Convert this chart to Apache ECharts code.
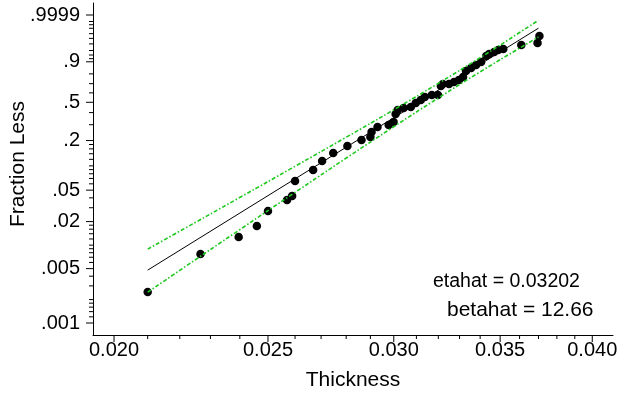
<!DOCTYPE html>
<html>
<head>
<meta charset="utf-8">
<script src="https://cdn.jsdelivr.net/npm/echarts@6/dist/echarts.min.js"></script>
<style>
  html, body { margin: 0; padding: 0; background: #fff; }
  #chart { width: 624px; height: 398px; }
</style>
</head>
<body>
<div id="chart"></div>
<script>
// Sorted thickness observations and their plotting positions (fraction less)
const thickness = [0.0210, 0.02267, 0.02396, 0.02460, 0.02500, 0.02570, 0.02589, 0.02600, 0.02669, 0.02704,
  0.02748, 0.02805, 0.02863, 0.02900, 0.02905, 0.02930, 0.02978, 0.02999, 0.03008, 0.03017,
  0.03043, 0.03075, 0.03097, 0.03120, 0.03138, 0.03170, 0.03198, 0.03212, 0.03221, 0.03250,
  0.03274, 0.03297, 0.03317, 0.03331, 0.03356, 0.03380, 0.03405, 0.03430, 0.03445, 0.03470,
  0.03490, 0.03516, 0.03609, 0.03695, 0.03705];
const fractionLess = [0.00250, 0.00770, 0.0127, 0.0176, 0.0273, 0.0376, 0.0422, 0.0650, 0.0889, 0.1145,
  0.1428, 0.1728, 0.2027, 0.2193, 0.2496, 0.2832, 0.2976, 0.3203, 0.3871, 0.4237,
  0.4428, 0.4525, 0.4924, 0.5234, 0.5551, 0.5766, 0.5766, 0.6744, 0.6960, 0.6960,
  0.7173, 0.7382, 0.7689, 0.8262, 0.8523, 0.8763, 0.8983, 0.9347, 0.9448, 0.9537,
  0.9616, 0.9652, 0.9772, 0.9819, 0.9928];

// Confidence band around the fitted Weibull line
const bandThickness = [0.021, 0.023, 0.025, 0.027, 0.029, 0.031, 0.033, 0.035, 0.037];
const bandUpper = [0.00889, 0.0250, 0.0639, 0.1486, 0.3099, 0.5608, 0.8309, 0.9771, 0.99962];
const bandLower = [0.00249, 0.00879, 0.0276, 0.0775, 0.1921, 0.4057, 0.6904, 0.9137, 0.9918];

// Fitted Weibull parameters and the thickness range the fit is drawn over
const etahat = 0.03202;
const betahat = 12.66;
const fitRange = [0.021, 0.037];

// Axis ticks
const xTicks = [0.020, 0.025, 0.030, 0.035, 0.040];
const xTickLabels = ['0.020', '0.025', '0.030', '0.035', '0.040'];
const xMinorTicks = [0.021, 0.022, 0.023, 0.024, 0.026, 0.027, 0.028, 0.029,
  0.031, 0.032, 0.033, 0.034, 0.036, 0.037, 0.038, 0.039];
const yTicks = [0.001, 0.005, 0.02, 0.05, 0.2, 0.5, 0.9, 0.9999];
const yTickLabels = ['.001', '.005', '.02', '.05', '.2', '.5', '.9', '.9999'];
const yMinorTicks = [0.0012, 0.0014, 0.0016, 0.0018, 0.002, 0.003, 0.004, 0.006, 0.007, 0.008, 0.009,
  0.01, 0.012, 0.014, 0.016, 0.018, 0.03, 0.04, 0.06, 0.07, 0.08, 0.09,
  0.1, 0.12, 0.14, 0.16, 0.18, 0.3, 0.4, 0.6, 0.7, 0.8,
  0.92, 0.94, 0.96, 0.98, 0.99, 0.995, 0.998, 0.999, 0.9995];

// Weibull probability-paper scales: log thickness vs log(-log(1 - p))
const wx = v => Math.log(v);
const wy = p => Math.log(-Math.log(1 - p));

const X_MIN = wx(0.01940), X_MAX = wx(0.04122);
const Y_MIN = -7.263, Y_MAX = 2.576;

const FONT = '"Liberation Sans", Arial, Helvetica, sans-serif';
const GREEN = '#1ec81e';
const MAJOR_LEN = 7, MINOR_LEN = 4;

const labelFor = (ticks, labels, t) => v => {
  const i = ticks.findIndex(tk => Math.abs(t(tk) - v) < 1e-6);
  return i >= 0 ? labels[i] : '';
};

const points = thickness.map((x, i) => [wx(x), wy(fractionLess[i])]);
const fitLine = fitRange.map(x => [wx(x), betahat * (wx(x) - wx(etahat))]);
const upper = bandThickness.map((x, i) => [wx(x), wy(bandUpper[i])]);
const lower = bandThickness.map((x, i) => [wx(x), wy(bandLower[i])]);

// Tick marks drawn as thin rectangles anchored on the axis lines
const tickSeries = (values, len, horizontal) => ({
  type: 'scatter', silent: true, clip: false, z: 6,
  symbol: 'rect',
  symbolSize: horizontal ? [len, 1] : [1, len],
  symbolOffset: horizontal ? [-len / 2, 0] : [0, len / 2],
  itemStyle: { color: '#000', opacity: 1 },
  emphasis: { disabled: true },
  data: horizontal ? values.map(v => [X_MIN, wy(v)]) : values.map(v => [wx(v), Y_MIN])
});

const chart = echarts.init(document.getElementById('chart'), null, { renderer: 'canvas' });

chart.setOption({
  animation: false,
  backgroundColor: '#fff',
  grid: { left: 93, right: 11, top: 3, bottom: 63, containLabel: false, outerBoundsMode: 'none' },
  xAxis: {
    type: 'value', min: X_MIN, max: X_MAX, position: 'bottom',
    splitLine: { show: false },
    name: 'Thickness', nameLocation: 'middle', nameGap: 35,
    nameTextStyle: { fontFamily: FONT, fontSize: 21, color: '#000' },
    axisLine: { show: true, onZero: false, lineStyle: { color: '#000', width: 1 } },
    axisTick: { show: false },
    axisLabel: {
      show: true, margin: 5, customValues: xTicks.map(wx),
      formatter: labelFor(xTicks, xTickLabels, wx),
      fontFamily: FONT, fontSize: 20, color: '#000'
    }
  },
  yAxis: {
    type: 'value', min: Y_MIN, max: Y_MAX, position: 'left',
    splitLine: { show: false },
    axisLine: { show: true, onZero: false, lineStyle: { color: '#000', width: 1 } },
    axisTick: { show: false },
    axisLabel: {
      show: true, margin: 13, customValues: yTicks.map(wy),
      formatter: labelFor(yTicks, yTickLabels, wy),
      fontFamily: FONT, fontSize: 20, color: '#000'
    }
  },
  series: [
    {
      name: 'observations', type: 'scatter', data: points,
      symbol: 'circle', symbolSize: 8.5,
      itemStyle: { color: '#000', opacity: 1 }, z: 2
    },
    {
      name: 'fit', type: 'line', data: fitLine, showSymbol: false,
      lineStyle: { color: '#000', width: 1 }, z: 3
    },
    {
      name: 'upper', type: 'line', data: upper, showSymbol: false, smooth: 0.2,
      lineStyle: { color: GREEN, width: 1.6, type: [4, 2, 1.5, 2] }, z: 4
    },
    {
      name: 'lower', type: 'line', data: lower, showSymbol: false, smooth: 0.2,
      lineStyle: { color: GREEN, width: 1.6, type: [4, 2, 1.5, 2] }, z: 4
    },
    tickSeries(xTicks, MAJOR_LEN, false),
    tickSeries(xMinorTicks, MINOR_LEN, false),
    tickSeries(yTicks, MAJOR_LEN, true),
    tickSeries(yMinorTicks, MINOR_LEN, true)
  ],
  graphic: [
    {
      // vertical axis title
      type: 'text', x: 18, y: 164, rotation: Math.PI / 2,
      style: { text: 'Fraction Less', font: '21px ' + FONT, fill: '#000', align: 'center', verticalAlign: 'middle' }
    },
    {
      type: 'text', left: 433, top: 272,
      style: { text: 'etahat = ' + etahat.toFixed(5), font: '19.5px ' + FONT, fill: '#000' }
    },
    {
      type: 'text', left: 447, top: 300,
      style: { text: 'betahat = ' + betahat.toFixed(2), font: '21px ' + FONT, fill: '#000' }
    }
  ]
});
</script>
</body>
</html>
